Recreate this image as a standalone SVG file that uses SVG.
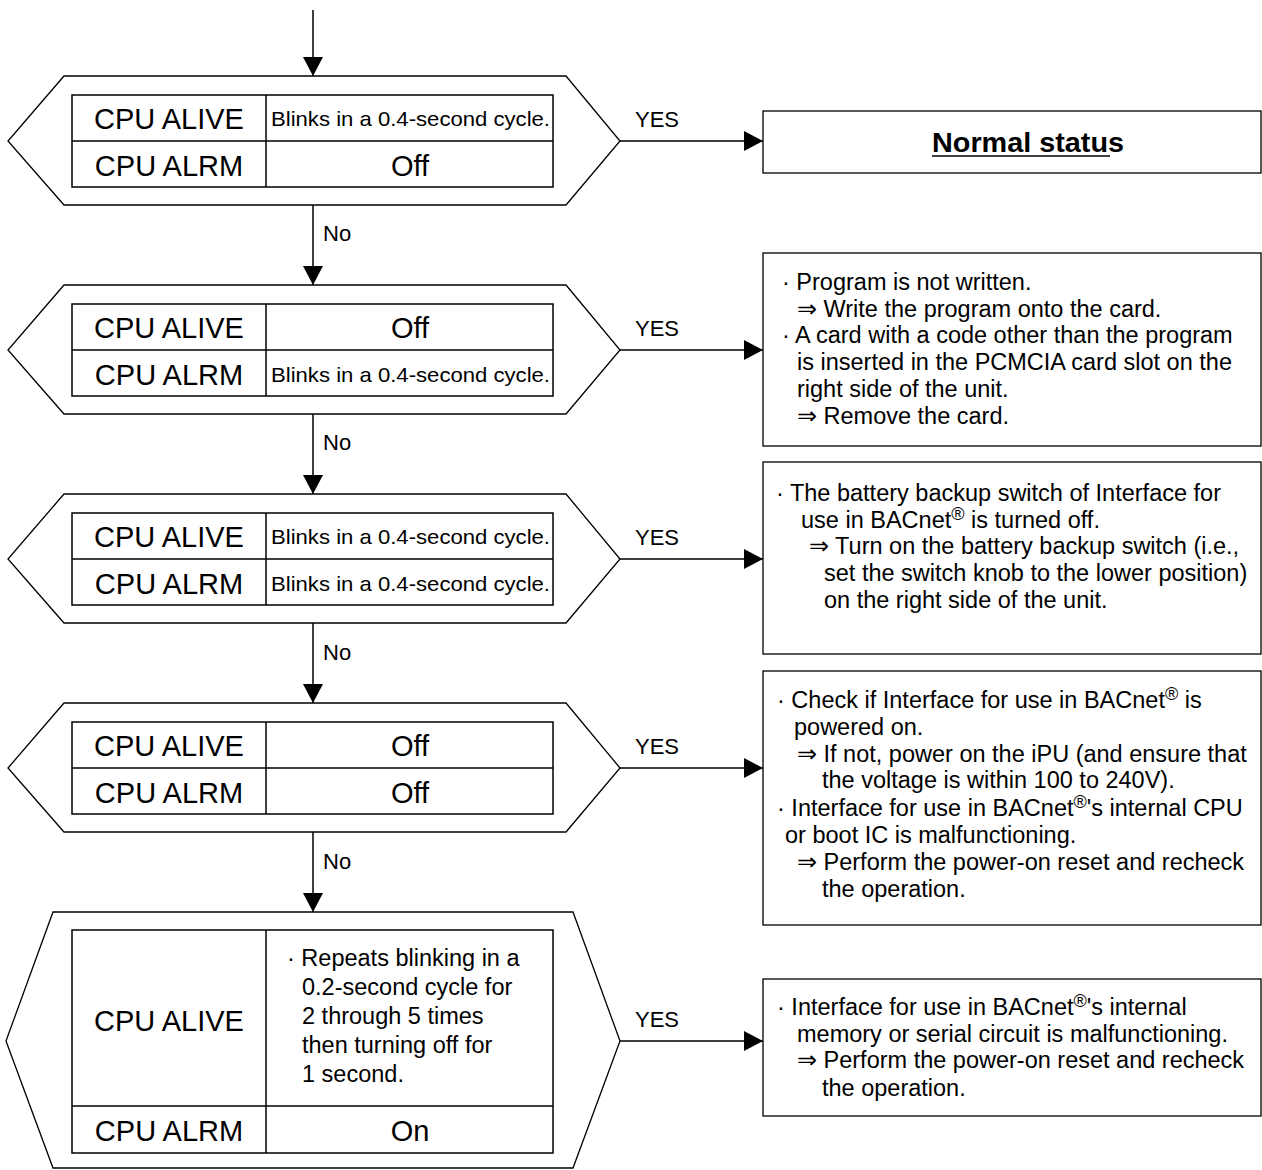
<svg xmlns="http://www.w3.org/2000/svg" width="1262" height="1170" viewBox="0 0 1262 1170">
<style>
text{font-family:"Liberation Sans",Arial,Helvetica,sans-serif;fill:#000}
.hex{fill:#fff;stroke:#000;stroke-width:1.3}
.tbl{fill:#fff;stroke:#000;stroke-width:1.5}
.div{stroke:#000;stroke-width:1.5}
.box{fill:#fff;stroke:#000;stroke-width:1.3}
.lbl{font-size:29px;text-anchor:middle}
.val{font-size:29px;text-anchor:middle}
.blk{font-size:21px}
.tx{font-size:23.5px}
.yn{font-size:22px}
.sup{font-size:18px}
.con{stroke:#000;stroke-width:1.5;fill:none;marker-end:url(#ah)}
</style>
<defs>
<marker id="ah" markerUnits="userSpaceOnUse" markerWidth="20" markerHeight="20" refX="19" refY="10" orient="auto"><path d="M0,0 L19,10 L0,20 z" fill="#000"/></marker>
</defs>
<g id="connectors">
<line class="con" x1="313" y1="10" x2="313" y2="76"/>
<line class="con" x1="313" y1="205" x2="313" y2="285"/>
<line class="con" x1="313" y1="414" x2="313" y2="494"/>
<line class="con" x1="313" y1="623" x2="313" y2="703"/>
<line class="con" x1="313" y1="832" x2="313" y2="912"/>
<line class="con" x1="620" y1="141" x2="763" y2="141"/>
<line class="con" x1="620" y1="350" x2="763" y2="350"/>
<line class="con" x1="620" y1="559" x2="763" y2="559"/>
<line class="con" x1="620" y1="768" x2="763" y2="768"/>
<line class="con" x1="620" y1="1041" x2="763" y2="1041"/>
<text class="yn" x="635" y="127">YES</text>
<text class="yn" x="635" y="336">YES</text>
<text class="yn" x="635" y="545">YES</text>
<text class="yn" x="635" y="754">YES</text>
<text class="yn" x="635" y="1027">YES</text>
<text class="yn" x="323" y="241">No</text>
<text class="yn" x="323" y="450">No</text>
<text class="yn" x="323" y="660">No</text>
<text class="yn" x="323" y="869">No</text>
</g>
<g id="decision1">
<polygon class="hex" points="64,76 566,76 620,141 566,205 64,205 8,141"/>
<rect class="tbl" x="72" y="95" width="481" height="92"/>
<line class="div" x1="72" y1="141" x2="553" y2="141"/>
<line class="div" x1="266" y1="95" x2="266" y2="187"/>
<text class="lbl" x="169" y="129">CPU ALIVE</text>
<text class="blk" x="271" y="126" textLength="279" lengthAdjust="spacingAndGlyphs">Blinks in a 0.4-second cycle.</text>
<text class="lbl" x="169" y="176">CPU ALRM</text>
<text class="val" x="410" y="176">Off</text>
</g>
<g id="decision2">
<polygon class="hex" points="64,285 566,285 620,350 566,414 64,414 8,350"/>
<rect class="tbl" x="72" y="304" width="481" height="92"/>
<line class="div" x1="72" y1="350" x2="553" y2="350"/>
<line class="div" x1="266" y1="304" x2="266" y2="396"/>
<text class="lbl" x="169" y="338">CPU ALIVE</text>
<text class="val" x="410" y="338">Off</text>
<text class="lbl" x="169" y="385">CPU ALRM</text>
<text class="blk" x="271" y="382" textLength="279" lengthAdjust="spacingAndGlyphs">Blinks in a 0.4-second cycle.</text>
</g>
<g id="decision3">
<polygon class="hex" points="64,494 566,494 620,559 566,623 64,623 8,559"/>
<rect class="tbl" x="72" y="513" width="481" height="92"/>
<line class="div" x1="72" y1="559" x2="553" y2="559"/>
<line class="div" x1="266" y1="513" x2="266" y2="605"/>
<text class="lbl" x="169" y="547">CPU ALIVE</text>
<text class="blk" x="271" y="544" textLength="279" lengthAdjust="spacingAndGlyphs">Blinks in a 0.4-second cycle.</text>
<text class="lbl" x="169" y="594">CPU ALRM</text>
<text class="blk" x="271" y="591" textLength="279" lengthAdjust="spacingAndGlyphs">Blinks in a 0.4-second cycle.</text>
</g>
<g id="decision4">
<polygon class="hex" points="64,703 566,703 620,768 566,832 64,832 8,768"/>
<rect class="tbl" x="72" y="722" width="481" height="92"/>
<line class="div" x1="72" y1="768" x2="553" y2="768"/>
<line class="div" x1="266" y1="722" x2="266" y2="814"/>
<text class="lbl" x="169" y="756">CPU ALIVE</text>
<text class="val" x="410" y="756">Off</text>
<text class="lbl" x="169" y="803">CPU ALRM</text>
<text class="val" x="410" y="803">Off</text>
</g>
<g id="decision5">
<polygon class="hex" points="53,912 573,912 620,1041 573,1168 53,1168 6,1041"/>
<rect class="tbl" x="72" y="930" width="481" height="223"/>
<line class="div" x1="72" y1="1106" x2="553" y2="1106"/>
<line class="div" x1="266" y1="930" x2="266" y2="1153"/>
<text class="lbl" x="169" y="1031">CPU ALIVE</text>
<text class="tx" x="287" y="966">· Repeats blinking in a</text>
<text class="tx" x="302" y="995">0.2-second cycle for</text>
<text class="tx" x="302" y="1024">2 through 5 times</text>
<text class="tx" x="302" y="1053">then turning off for</text>
<text class="tx" x="302" y="1082">1 second.</text>
<text class="lbl" x="169" y="1141">CPU ALRM</text>
<text class="val" x="410" y="1141">On</text>
</g>
<g id="normal">
<rect class="box" x="763" y="111" width="498" height="62"/>
<text x="932" y="152" font-size="27" font-weight="bold" textLength="192" lengthAdjust="spacingAndGlyphs">Normal status</text>
<line x1="932" y1="156" x2="1110" y2="156" stroke="#000" stroke-width="1.5"/>
</g>
<g id="result2">
<rect class="box" x="763" y="253" width="498" height="193"/>
<text class="tx" x="782" y="290">· Program is not written.</text>
<text class="tx" x="797" y="317">⇒ Write the program onto the card.</text>
<text class="tx" x="782" y="343">· A card with a code other than the program</text>
<text class="tx" x="797" y="370">is inserted in the PCMCIA card slot on the</text>
<text class="tx" x="797" y="397">right side of the unit.</text>
<text class="tx" x="797" y="424">⇒ Remove the card.</text>
</g>
<g id="result3">
<rect class="box" x="763" y="462" width="498" height="192"/>
<text class="tx" x="776" y="501">· The battery backup switch of Interface for</text>
<text class="tx" x="801" y="528">use in BACnet<tspan class="sup" dy="-8">®</tspan><tspan dy="8"> is turned off.</tspan></text>
<text class="tx" x="809" y="554">⇒ Turn on the battery backup switch (i.e.,</text>
<text class="tx" x="824" y="581">set the switch knob to the lower position)</text>
<text class="tx" x="824" y="608">on the right side of the unit.</text>
</g>
<g id="result4">
<rect class="box" x="763" y="671" width="498" height="254"/>
<text class="tx" x="777" y="708">· Check if Interface for use in BACnet<tspan class="sup" dy="-8">®</tspan><tspan dy="8"> is</tspan></text>
<text class="tx" x="794" y="735">powered on.</text>
<text class="tx" x="797" y="762">⇒ If not, power on the iPU (and ensure that</text>
<text class="tx" x="822" y="788">the voltage is within 100 to 240V).</text>
<text class="tx" x="777" y="816">· Interface for use in BACnet<tspan class="sup" dy="-8">®</tspan><tspan dy="8">'s internal CPU</tspan></text>
<text class="tx" x="785" y="843">or boot IC is malfunctioning.</text>
<text class="tx" x="797" y="870">⇒ Perform the power-on reset and recheck</text>
<text class="tx" x="822" y="897">the operation.</text>
</g>
<g id="result5">
<rect class="box" x="763" y="979" width="498" height="137"/>
<text class="tx" x="777" y="1015">· Interface for use in BACnet<tspan class="sup" dy="-8">®</tspan><tspan dy="8">'s internal</tspan></text>
<text class="tx" x="797" y="1042">memory or serial circuit is malfunctioning.</text>
<text class="tx" x="797" y="1068">⇒ Perform the power-on reset and recheck</text>
<text class="tx" x="822" y="1096">the operation.</text>
</g>
</svg>
